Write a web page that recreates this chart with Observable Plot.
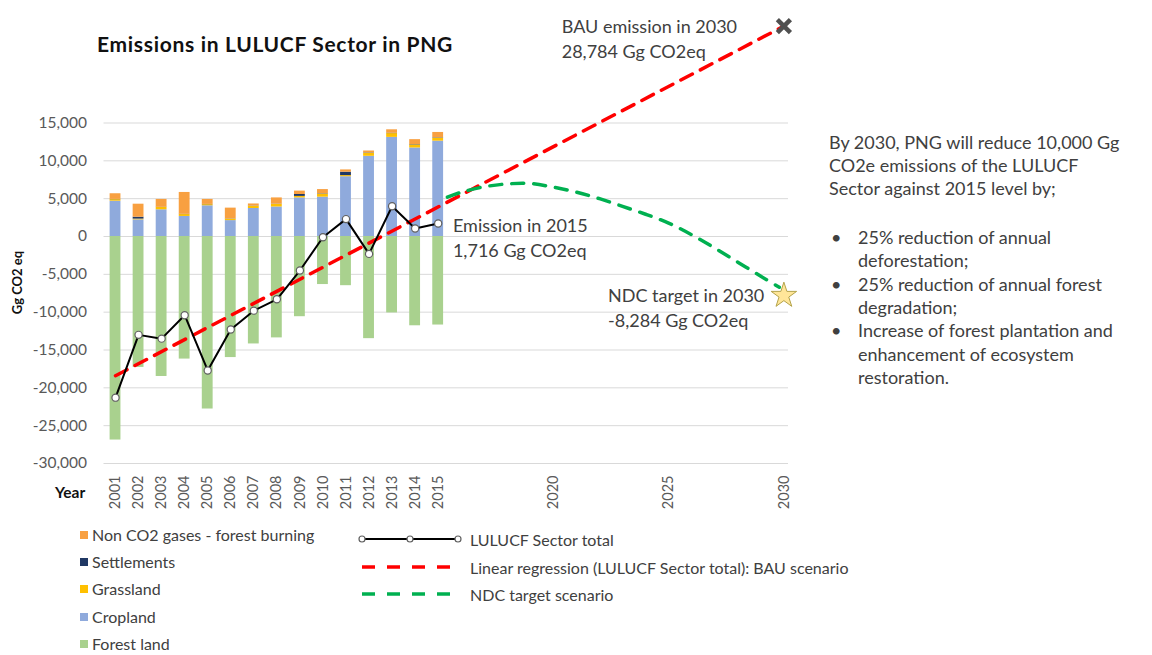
<!DOCTYPE html>
<html>
<head>
<meta charset="utf-8">
<script src="https://cdn.jsdelivr.net/npm/d3@7"></script>
<script src="https://cdn.jsdelivr.net/npm/@observablehq/plot@0.6"></script>
<style>
  body { margin: 0; background: #fff; font-family: Lato, "Open Sans", sans-serif; }
  #wrap { position: relative; width: 1152px; height: 655px; overflow: hidden; background: #fff; }
  #chart { position: absolute; left: 0; top: 0; }
  .t { position: absolute; white-space: nowrap; color: #404040; line-height: 1; }
</style>
</head>
<body>
<div id="wrap"><div id="chart"></div></div>
<script>
// ---------- data ----------
const years = [2001, 2002, 2003, 2004, 2005, 2006, 2007, 2008, 2009, 2010, 2011, 2012, 2013, 2014, 2015];
const forestLand  = [-26900, -17300, -18500, -16200, -22800, -16000, -14200, -13400, -10600, -6350, -6500, -13500, -10100, -11800, -11700];
const cropland    = [4670, 2200, 3530, 2650, 4060, 2100, 3700, 3900, 5100, 5200, 7900, 10600, 13100, 11700, 12600];
const grassland   = [200, 100, 300, 250, 150, 200, 300, 350, 200, 400, 150, 400, 500, 400, 400];
const settlements = [30, 250, 30, 30, 30, 30, 30, 30, 250, 50, 450, 50, 50, 50, 50];
const nonCO2      = [750, 1720, 1040, 2890, 660, 1420, 270, 820, 450, 550, 300, 250, 450, 650, 700];
const sectorTotal = [-21300, -13000, -13500, -10400, -17700, -12300, -9800, -8300, -4500, -100, 2300, -2300, 4000, 1050, 1716];

const bauYears  = [2001, 2030];
const bauValues = [-18400, 27800];

const ndcYears  = [2015.4, 2016, 2017, 2018, 2019, 2020, 2021, 2022, 2023, 2024, 2025, 2026, 2027, 2028, 2029, 2029.8];
const ndcValues = [5200, 5850, 6570, 6950, 7000, 6520, 5860, 5000, 3980, 2940, 1770, 230, -1530, -3390, -5260, -6710];

const targetYear = 2030;
const bauTarget = 27800;   // drawn position of the BAU 2030 marker
const ndcTarget = -7800;   // drawn position of the NDC 2030 marker

const seriesNames  = ["Forest land", "Cropland", "Grassland", "Settlements", "Non CO2 gases - forest burning"];
const seriesValues = [forestLand, cropland, grassland, settlements, nonCO2];
const seriesColors = ["#a9d18e", "#8faadc", "#ffc000", "#203864", "#f8a041"];

const yTicks = [-30000, -25000, -20000, -15000, -10000, -5000, 0, 5000, 10000, 15000];
const xTicks = [...years, 2020, 2025, 2030];

const annotations = [
  {x: 2020.36, y: 26300, text: "BAU emission in 2030\n28,784 Gg CO2eq"},
  {x: 2015.64, y: 0,     text: "Emission in 2015\n1,716 Gg CO2eq"},
  {x: 2022.37, y: -9300, text: "NDC target in 2030\n-8,284 Gg CO2eq"}
];

const legendBars = ["Non CO2 gases - forest burning", "Settlements", "Grassland", "Cropland", "Forest land"];
const legendLines = ["LULUCF Sector total", "Linear regression (LULUCF Sector total): BAU scenario", "NDC target scenario"];

const noteIntro = ["By 2030, PNG will reduce 10,000 Gg", "CO2e emissions of the LULUCF", "Sector against 2015 level by;"];
const noteBullets = [
  ["25% reduction of annual", "deforestation;"],
  ["25% reduction of annual forest", "degradation;"],
  ["Increase of forest plantation and", "enhancement of ecosystem", "restoration."]
];

// ---------- tables ----------
const stacked = [];
years.forEach((yr, i) => {
  let pos = 0, neg = 0;
  seriesNames.forEach((s, k) => {
    const v = seriesValues[k][i];
    if (v >= 0) { stacked.push({year: yr, series: s, color: seriesColors[k], y1: pos, y2: pos + v}); pos += v; }
    else { stacked.push({year: yr, series: s, color: seriesColors[k], y1: neg, y2: neg + v}); neg += v; }
  });
});
const totals = years.map((yr, i) => ({year: yr, value: sectorTotal[i]}));
const bau = bauYears.map((yr, i) => ({year: yr, value: bauValues[i]}));
const ndc = ndcYears.map((yr, i) => ({year: yr, value: ndcValues[i]}));

const halfBar = 0.235;

const plot = Plot.plot({
  width: 1152,
  height: 655,
  marginLeft: 103.5,
  marginRight: 364,
  marginTop: 9,
  marginBottom: 192,
  style: {fontFamily: "Lato, 'Open Sans', sans-serif", background: "transparent"},
  x: {type: "linear", domain: [2000.5, 2030.2]},
  y: {domain: [-30000, 30000]},
  marks: [
    Plot.ruleY(yTicks, {stroke: "#d9d9d9", strokeWidth: 1}),
    Plot.rectY(stacked, {
      x1: d => d.year - halfBar, x2: d => d.year + halfBar,
      y1: "y1", y2: "y2", fill: "color"
    }),
    Plot.axisY(yTicks, {
      tickSize: 0, tickPadding: 17, fontSize: 15.5, fill: "#595959",
      tickFormat: d => d.toLocaleString("en-US"), label: null
    }),
    Plot.axisX(xTicks, {
      tickSize: 0, tickPadding: 12, tickRotate: -90, fontSize: 14.5, fill: "#595959",
      tickFormat: d => String(d), label: null
    }),
    Plot.line(bau, {x: "year", y: "value", stroke: "#ff0000", strokeWidth: 3.5, strokeDasharray: "13,9"}),
    Plot.line(ndc, {x: "year", y: "value", stroke: "#00b050", strokeWidth: 3.5, strokeDasharray: "12,10", curve: "catmull-rom"}),
    Plot.line(totals, {x: "year", y: "value", stroke: "#000", strokeWidth: 2}),
    Plot.dot(totals, {x: "year", y: "value", r: 3.6, fill: "#fff", stroke: "#606060", strokeWidth: 1.2}),
    Plot.dot([{x: targetYear, y: bauTarget}], {x: "x", y: "y", symbol: "times", r: 6, stroke: "#505050", strokeWidth: 4.5}),
    Plot.dot([{x: targetYear, y: ndcTarget}], {x: "x", y: "y", symbol: "star", r: 8, fill: "#ffe699", stroke: "#b4a34a", strokeWidth: 1}),
    Plot.text(annotations, {
      x: "x", y: "y", text: "text", textAnchor: "start", lineAnchor: "middle",
      lineHeight: 1.37, fontSize: 18, fill: "#404040"
    })
  ]
});
document.getElementById("chart").appendChild(plot);

// ---------- HTML texts ----------
const wrap = document.getElementById("wrap");
function addText(txt, x, yc, style = {}, targetWidth) {
  const d = document.createElement("div");
  d.className = "t";
  d.textContent = txt;
  Object.assign(d.style, {left: x + "px"}, style);
  wrap.appendChild(d);
  if (targetWidth) {
    const w = d.getBoundingClientRect().width;
    d.style.letterSpacing = ((targetWidth - w) / txt.length) + "px";
  }
  const h = d.getBoundingClientRect().height;
  d.style.top = (yc - h / 2) + "px";
  return d;
}

addText("Emissions in LULUCF Sector in PNG", 97, 43, {fontSize: "21px", fontWeight: "700", color: "#111"}, 356);
addText("Year", 55, 493, {fontSize: "15.5px", fontWeight: "700", color: "#111"});
const yl = addText("Gg CO2 eq", 0, 282, {fontSize: "13px", fontWeight: "700", color: "#111"});
{
  const r = yl.getBoundingClientRect();
  yl.style.left = (18 - r.width / 2) + "px";
  yl.style.transform = "rotate(-90deg)";
}

// right-hand note
const noteSize = {fontSize: "18px", color: "#404040"};
noteIntro.forEach((line, i) => addText(line, 829, 142 + i * 23.2, noteSize));
let ny = 237;
noteBullets.forEach(lines => {
  addText("•", 831, ny, noteSize);
  lines.forEach(line => { addText(line, 858, ny, noteSize); ny += 23.3; });
});

// legend (bars)
legendBars.forEach((name, i) => {
  const yc = 535 + i * 27.2;
  const k = seriesNames.indexOf(name);
  const sw = document.createElement("div");
  Object.assign(sw.style, {position: "absolute", left: "80px", top: (yc - 4) + "px", width: "8px", height: "8px", background: seriesColors[k]});
  wrap.appendChild(sw);
  addText(name, 92, yc, {fontSize: "16px", color: "#404040"});
});

// legend (lines)
const ns = "http://www.w3.org/2000/svg";
const lsvg = document.createElementNS(ns, "svg");
lsvg.setAttribute("width", 1152); lsvg.setAttribute("height", 655);
lsvg.style.position = "absolute"; lsvg.style.left = "0"; lsvg.style.top = "0"; lsvg.style.pointerEvents = "none";
wrap.appendChild(lsvg);
function el(tag, attrs) { const e = document.createElementNS(ns, tag); for (const k in attrs) e.setAttribute(k, attrs[k]); lsvg.appendChild(e); return e; }
el("line", {x1: 362, x2: 458, y1: 539, y2: 539, stroke: "#000", "stroke-width": 2});
[362, 410, 458].forEach(cx => el("circle", {cx, cy: 539, r: 3, fill: "#fff", stroke: "#606060", "stroke-width": 1.2}));
el("line", {x1: 362, x2: 458, y1: 567, y2: 567, stroke: "#ff0000", "stroke-width": 3.5, "stroke-dasharray": "13,12"});
el("line", {x1: 362, x2: 458, y1: 594, y2: 594, stroke: "#00b050", "stroke-width": 3.5, "stroke-dasharray": "13,12"});
legendLines.forEach((name, i) => addText(name, 470, 540 + i * 27.5, {fontSize: "16px", color: "#404040"}));
</script>
</body>
</html>
